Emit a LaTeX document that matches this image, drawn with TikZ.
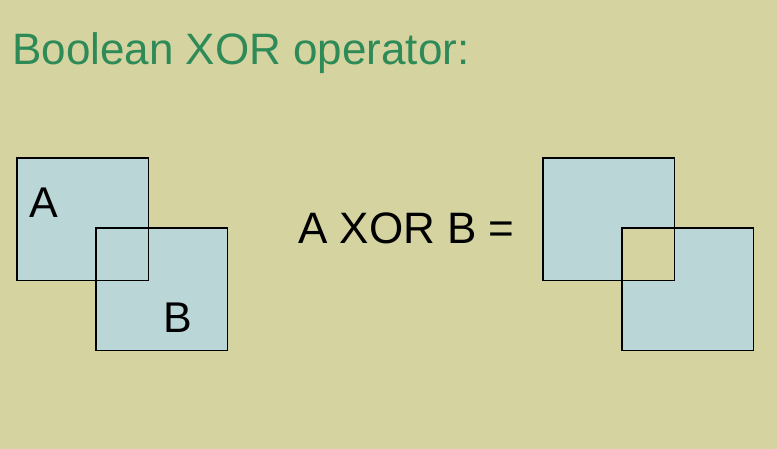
\documentclass[tikz,border=0pt]{standalone}
\usepackage{fontspec}
\setmainfont{Liberation Sans}
\definecolor{bgkhaki}{RGB}{213,212,161}
\definecolor{boxblue}{RGB}{186,214,214}
\definecolor{titlegreen}{RGB}{46,139,88}
\tikzset{
  sq/.style={rectangle, minimum width=131pt, minimum height=122pt, inner sep=0pt, anchor=north west},
  big/.style={inner sep=0pt, anchor=base west, font=\fontsize{43}{50}\selectfont},
  rim/.style={draw=black, line width=1.4pt}
}
\begin{document}
\begin{tikzpicture}[x=1pt,y=-1pt]
  \fill[bgkhaki] (0,0) rectangle (777,449);
  \useasboundingbox (0,0) rectangle (777,449);
  \node[big, text=titlegreen, font=\fontsize{44}{50}\selectfont] (title) at (12,65) {Boolean XOR operator:};
  % left: the two sets
  \node[sq, fill=boxblue] (a1) at (17,158) {};
  \node[sq, fill=boxblue] (b1) at (96,228) {};
  \draw[rim] (a1.north west) rectangle (a1.south east);
  \draw[rim] (b1.north west) rectangle (b1.south east);
  \node[big] (la) at (29,218) {A};
  \node[big] (lb) at (163,332) {B};
  % middle
  \node[big, font=\fontsize{44}{50}\selectfont] (eq) at (298,244) {A XOR B =};
  % right: symmetric difference
  \node[sq] (a2) at (543,158) {};
  \node[sq] (b2) at (622,228) {};
  \fill[boxblue, even odd rule] (a2.north west) rectangle (a2.south east)
    (b2.north west) rectangle (b2.south east);
  \draw[rim] (a2.north west) rectangle (a2.south east);
  \draw[rim] (b2.north west) rectangle (b2.south east);
\end{tikzpicture}
\end{document}
